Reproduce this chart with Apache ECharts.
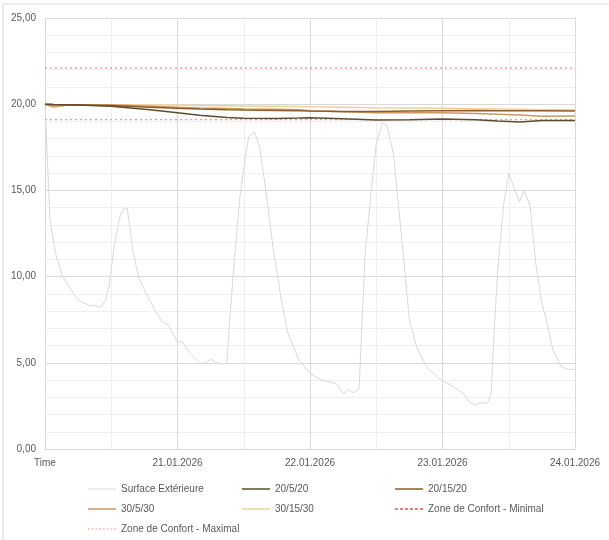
<!DOCTYPE html>
<html>
<head>
<meta charset="utf-8">
<script src="https://cdn.jsdelivr.net/npm/echarts@6/dist/echarts.min.js"></script>
<style>
html,body{margin:0;padding:0;background:#fff;}
#c{width:609px;height:540px;}
</style>
</head>
<body>
<div id="c"></div>
<script>
// X axis: hours since 20.01.2026 00:00
const xTickLabels = ['Time', '21.01.2026', '22.01.2026', '23.01.2026', '24.01.2026'];
const seriesNames = ['Surface Extérieure', '20/5/20', '20/15/20', '30/5/30', '30/15/30', 'Zone de Confort - Minimal', 'Zone de Confort - Maximal'];

const hoursOut = [0, 0.9, 1.9, 3.2, 5.9, 8.3, 8.9, 9.9, 10.9, 11.6, 12.5, 13.6, 14.3, 14.9, 15.9, 16.9, 18.3, 19.9, 21.2, 22.3, 23.2, 23.9, 24.9, 26, 28, 28.9, 30, 31.6, 32.9, 33.6, 34.3, 35.3, 36.3, 36.9, 37.9, 38.9, 40, 41.3, 42.7, 44, 46, 48, 50, 52.7, 53.3, 54, 54.8, 55.9, 56.9, 57.3, 58, 59.1, 60, 61.1, 61.9, 63.1, 64, 65.1, 66, 67.3, 69.1, 71.3, 73.5, 75.7, 77.1, 78.1, 78.8, 80.1, 80.8, 81.3, 82, 83.1, 84, 84.9, 85.9, 86.8, 87.9, 88.9, 90, 90.8, 92, 93.5, 94.8, 96];
const surfaceExt = [20.0, 13.3, 11.35, 10.0, 8.64, 8.29, 8.35, 8.2, 8.55, 9.4, 11.7, 13.5, 13.96, 13.96, 11.54, 10.0, 9.03, 8.06, 7.38, 7.19, 6.71, 6.22, 6.22, 5.64, 4.97, 4.97, 5.2, 4.93, 4.97, 8.06, 10.96, 14.6, 16.95, 18.1, 18.4, 17.5, 15.0, 11.7, 8.84, 6.71, 5.16, 4.39, 4.0, 3.81, 3.52, 3.19, 3.42, 3.27, 3.52, 6.51, 11.35, 15.0, 17.7, 18.9, 18.8, 17.15, 14.25, 10.57, 7.48, 5.93, 4.77, 4.1, 3.71, 3.23, 2.65, 2.55, 2.69, 2.65, 3.13, 6.51, 10.38, 14.25, 15.99, 15.2, 14.34, 14.98, 14.05, 10.77, 8.45, 7.48, 5.74, 4.77, 4.62, 4.62];

const hoursIn = [0, 1.5, 4, 6, 12, 15, 19, 24, 28, 33, 36, 42, 46, 48, 54, 60, 66, 72, 78, 82, 86, 90, 96];
const s20_5_20  = [20.0, 19.98, 19.96, 19.95, 19.88, 19.8, 19.68, 19.51, 19.36, 19.23, 19.18, 19.17, 19.2, 19.22, 19.15, 19.08, 19.1, 19.14, 19.1, 19.02, 18.97, 19.05, 19.06];
const s20_15_20 = [20.0, 19.98, 19.97, 19.96, 19.92, 19.88, 19.83, 19.76, 19.72, 19.68, 19.66, 19.64, 19.62, 19.6, 19.58, 19.57, 19.6, 19.62, 19.63, 19.62, 19.62, 19.62, 19.6];
const s30_5_30  = [20.0, 19.88, 19.95, 19.96, 19.95, 19.92, 19.88, 19.82, 19.78, 19.75, 19.72, 19.7, 19.68, 19.62, 19.56, 19.5, 19.5, 19.5, 19.46, 19.42, 19.38, 19.3, 19.32];
const s30_15_30 = [20.0, 19.8, 19.95, 19.97, 19.97, 19.97, 19.96, 19.95, 19.93, 19.91, 19.9, 19.88, 19.86, 19.85, 19.83, 19.8, 19.78, 19.76, 19.74, 19.72, 19.7, 19.68, 19.68];

const hoursComfort = [0, 96];
const comfortMin = [19.1, 19.1];
const comfortMax = [22.1, 22.1];

const yTickLabels = ['0,00', '5,00', '10,00', '15,00', '20,00', '25,00'];

function pairs(hs, vs) { return hs.map((h, i) => [h, vs[i]]); }

const FONT = '"Liberation Sans", Arial, sans-serif';
const TXT = '#595959';

function line(name, hs, vs, color, width, type) {
  return {
    name: name, type: 'line', data: pairs(hs, vs),
    symbol: 'none', showSymbol: false, smooth: false,
    lineStyle: { color: color, width: width, type: type || 'solid' },
    itemStyle: { color: color },
    emphasis: { disabled: true }
  };
}

const ICON_SOLID = 'rect';
const ICON_DASH = 'path://M0,0h3v1h-3zM5,0h3v1h-3zM10,0h3v1h-3zM15,0h3v1h-3zM20,0h3v1h-3zM25,0h3v1h-3z';
const ICON_DOT = 'path://M0,0h1.5v1h-1.5zM3.5,0h1.5v1h-1.5zM7,0h1.5v1h-1.5zM10.5,0h1.5v1h-1.5zM14,0h1.5v1h-1.5zM17.5,0h1.5v1h-1.5zM21,0h1.5v1h-1.5zM24.5,0h1.5v1h-1.5z';

function leg(name, left, top, icon, h, color) {
  const item = color ? { name: name, itemStyle: { color: color } } : name;
  return {
    left: left, top: top, itemWidth: 28, itemHeight: h, icon: icon,
    data: [item], selectedMode: false,
    textStyle: { color: TXT, fontSize: 10, fontFamily: FONT }
  };
}

const chart = echarts.init(document.getElementById('c'), null, { renderer: 'canvas' });
chart.setOption({
  animation: false,
  backgroundColor: '#fff',
  textStyle: { fontFamily: FONT },
  graphic: [{
    type: 'rect', shape: { x: 3, y: 4, width: 640, height: 560 },
    style: { fill: 'none', stroke: '#d9d9d9', lineWidth: 1 }, silent: true
  }],
  grid: { left: 45, right: 34, top: 18, bottom: 91, containLabel: false },
  xAxis: {
    type: 'value', min: 0, max: 96, interval: 24,
    axisLine: { show: true, lineStyle: { color: '#d9d9d9', width: 1 } },
    axisTick: { show: false },
    minorTick: { show: false, splitNumber: 2 },
    splitLine: { show: true, lineStyle: { color: '#d9d9d9', width: 1 } },
    minorSplitLine: { show: true, lineStyle: { color: '#efefef', width: 1 } },
    axisLabel: {
      color: TXT, fontSize: 10, fontFamily: FONT, margin: 9,
      formatter: function (v) { return xTickLabels[Math.round(v / 24)]; }
    }
  },
  yAxis: {
    type: 'value', min: 0, max: 25, interval: 5,
    axisLine: { show: false },
    axisTick: { show: false },
    minorTick: { show: false, splitNumber: 5 },
    splitLine: { show: true, lineStyle: { color: '#d9d9d9', width: 1 } },
    minorSplitLine: { show: true, lineStyle: { color: '#f0f0f0', width: 1 } },
    axisLabel: {
      color: TXT, fontSize: 10, fontFamily: FONT, margin: 9,
      formatter: function (v) { return yTickLabels[Math.round(v / 5)]; }
    }
  },
  legend: [
    leg(seriesNames[0], 83, 479, ICON_SOLID, 1),
    leg(seriesNames[1], 237, 479, ICON_SOLID, 1.5),
    leg(seriesNames[2], 390, 479, ICON_SOLID, 1.5),
    leg(seriesNames[3], 83, 499, ICON_SOLID, 1.5),
    leg(seriesNames[4], 237, 499, ICON_SOLID, 1.5),
    leg(seriesNames[5], 390, 499, ICON_DASH, 1.2, '#c00000'),
    leg(seriesNames[6], 83, 519, ICON_DOT, 1.2, '#f08c8c')
  ],
  series: [
    line(seriesNames[0], hoursOut, surfaceExt, '#d9d9d9', 1),
    line(seriesNames[5], hoursComfort, comfortMin, '#ec9a9a', 1.2, [2, 3]),
    line(seriesNames[6], hoursComfort, comfortMax, '#e67474', 1.2, [2, 3]),
    line(seriesNames[4], hoursIn, s30_15_30, '#f2cf98', 1.5),
    line(seriesNames[3], hoursIn, s30_5_30, '#c99a60', 1.5),
    line(seriesNames[2], hoursIn, s20_15_20, '#8e5c2c', 1.5),
    line(seriesNames[1], hoursIn, s20_5_20, '#5f4c2c', 1.5)
  ]
});
</script>
</body>
</html>
